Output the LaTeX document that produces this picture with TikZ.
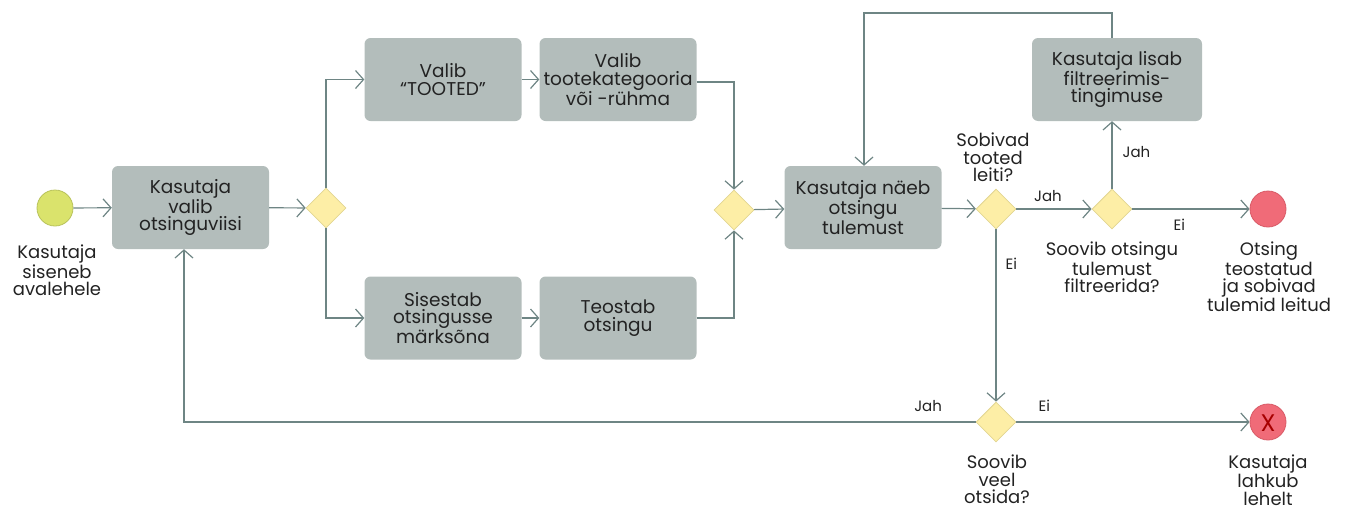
\documentclass[tikz,border=0pt]{standalone}
\usepackage{fontspec}
\setmainfont{Poppins}
\usetikzlibrary{arrows.meta,shapes.geometric}
\definecolor{boxgray}{HTML}{B3BDBB}
\definecolor{flowline}{HTML}{6E8584}
\definecolor{gatefill}{HTML}{FDEEA6}
\definecolor{gateedge}{HTML}{E2D593}
\definecolor{startfill}{HTML}{DAE36C}
\definecolor{startedge}{HTML}{B8C25A}
\definecolor{endfill}{HTML}{F06B78}
\definecolor{endedge}{HTML}{D85A66}
\definecolor{txt}{HTML}{222222}
\tikzset{
  task/.style={draw=none, fill=boxgray, rounded corners=6pt, minimum width=157pt,
    minimum height=83pt, inner sep=0pt, align=center, font=\fontsize{18.5}{17.5}\selectfont, text=txt},
  gate/.style={diamond, draw=gateedge, fill=gatefill, line width=0.8pt,
    minimum width=40pt, minimum height=40pt, inner sep=0pt},
  startev/.style={circle, draw=startedge, fill=startfill, line width=0.8pt, minimum size=36pt, inner sep=0pt},
  endev/.style={circle, draw=endedge, fill=endfill, line width=0.8pt, minimum size=36pt, inner sep=0pt},
  lbl/.style={align=center, font=\fontsize{18}{17.5}\selectfont, text=txt, inner sep=0pt},
  small/.style={font=\fontsize{15}{15}\selectfont, text=txt, inner sep=0pt},
  flow/.style={draw=flowline, line width=1.2pt, -{Straight Barb[length=8pt,width=18pt,line width=1.2pt]}}
}
\begin{document}
\begin{tikzpicture}[x=1pt,y=-1pt]
\useasboundingbox (0,0) rectangle (1348,512);

% events
\node[startev] (start) at (55,208) {};
\node[lbl, anchor=north] (startlbl) at (57,245) {Kasutaja\\siseneb\\avalehele};

% tasks
\node[task] (choose) at (190.5,207.5) {Kasutaja\\valib\\otsinguviisi};
\node[task] (tooted) at (443,79.5) {Valib\\“TOOTED”};
\node[task] (kateg) at (618,79.5) {Valib\\tootekategooria\\või -rühma};
\node[task] (sisesta) at (443,318) {Sisestab\\otsingusse\\märksõna};
\node[task] (teostab) at (618,318) {Teostab\\otsingu};
\node[task] (results) at (863,207.5) {Kasutaja näeb\\otsingu\\tulemust};
\node[task, minimum width=170pt] (filter) at (1117,79.5) {Kasutaja lisab\\filtreerimis-\\tingimuse};

% gateways
\node[gate] (g1) at (326,208) {};
\node[gate] (g2) at (734,210) {};
\node[gate] (g3) at (996,209) {};
\node[gate] (g4) at (1112,209) {};
\node[gate] (g5) at (996,422) {};

\node[lbl, anchor=south] (g3lbl) at (993,182) {Sobivad\\tooted\\leiti?};
\node[lbl, anchor=north] (g4lbl) at (1112,242) {Soovib otsingu\\tulemust\\filtreerida?};
\node[lbl, anchor=north] (g5lbl) at (997,455) {Soovib\\veel\\otsida?};

% end events
\node[endev] (done) at (1268,209) {};
\node[lbl, anchor=north] (donelbl) at (1269,242) {Otsing\\teostatud\\ja sobivad\\tulemid leitud};
\node[endev] (leave) at (1268,422) {};
\node[font=\fontsize{24}{24}\selectfont, text=red!65!black, inner sep=0pt] (leavex) at (1268,423) {X};
\node[lbl, anchor=north] (leavelbl) at (1268,455) {Kasutaja\\lahkub\\lehelt};

% connectors
\draw[flow] (start) -- (choose);
\draw[flow] (choose) -- (g1);
\draw[flow] (g1.north) |- (tooted.west);
\draw[flow] (g1.south) |- (sisesta.west);
\draw[flow] (tooted) -- (kateg);
\draw[flow] (sisesta) -- (teostab);
\draw[flow] (kateg.east |- 0,82) -| (g2.north);
\draw[flow] (teostab.east) -| (g2.south);
\draw[flow] (g2) -- (results);
\draw[flow] (results) -- (g3);
\draw[flow] (g3) -- node[small, above=7pt, pos=0.42] (jah1) {Jah} (g4);
\draw[flow] (g4) -- node[small, right=10pt, pos=0.55] (jah2) {Jah} (filter.south -| g4);
\draw[flow] (g4) -- node[small, below=9pt, pos=0.4] (ei1) {Ei} (done);
\coordinate (loopup) at (1112,13);
\coordinate (loopleft) at (864,13);
\draw[flow] (filter.north -| loopup) -- (loopup) -- (loopleft) -- (results.north -| loopleft);
\draw[flow] (g3) -- node[small, right=9pt, pos=0.2] (ei2) {Ei} (g5);
\draw[flow] (g5) -- node[small, above=10pt, pos=0.12] (ei3) {Ei} (leave);
\coordinate (backcorner) at (184,422);
\draw[flow] (g5) -- node[small, above=10pt, pos=0.06] (jah3) {Jah} (backcorner) -- (choose.south -| backcorner);
\end{tikzpicture}
\end{document}
